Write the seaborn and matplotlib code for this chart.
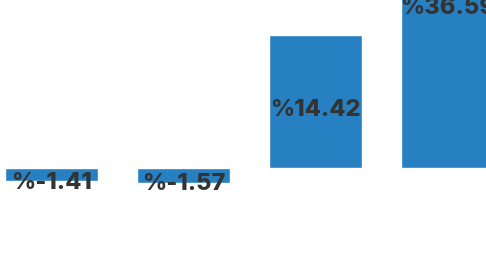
import matplotlib
matplotlib.use("Agg")
import matplotlib.pyplot as plt
import seaborn as sns
import pandas as pd

categories = ["1", "2", "3", "4"]
values = [-1.41, -1.57, 14.42, 36.59]
labels = ["%-1.41", "%-1.57", "%14.42", "%36.59"]

sns.set_style("white")
plt.rcParams['font.family'] = ['Inter', 'DejaVu Sans']

df = pd.DataFrame({"cat": categories, "val": values})

fig = plt.figure(figsize=(4.86, 2.75), dpi=100)
ax = fig.add_axes([0, 0, 1, 1])
sns.barplot(data=df, x="cat", y="val", color="#2680c2", saturation=1, width=0.70, ax=ax)

for i, v in enumerate(values):
    ax.annotate(labels[i], (i, v / 2), xytext=(0, -6), textcoords="offset points",
                ha="center", va="center", fontsize=17, fontweight="heavy", color="#333333",
                annotation_clip=False)

ax.set_xlim(-0.39, 3.29)
ax.set_ylim(-11.6, 18.22)
ax.axis("off")

fig.savefig("out.png", dpi=100)
